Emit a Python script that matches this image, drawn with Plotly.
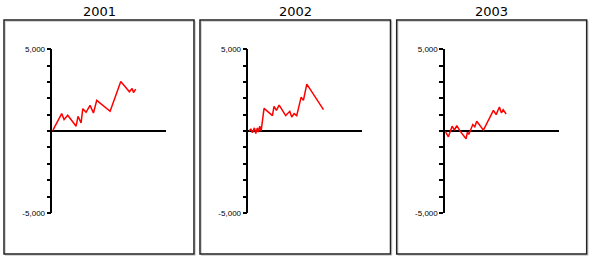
import plotly.graph_objects as go

W, H = 593, 260

years = ["2001", "2002", "2003"]

x_2001 = [0, 8.2, 10.3, 13.5, 20.9, 22.6, 25.3, 26.8, 29.7, 33.2, 36.2, 39.1, 50.9, 60.3, 67.9, 70.3, 71.5, 73.5]
y_2001 = [0, 1073, 708, 972, 304, 911, 506, 1376, 1154, 1579, 1113, 1882, 1214, 3036, 2409, 2611, 2368, 2570]

x_2002 = [0.6, 2.1, 3.5, 5.3, 6.5, 7.9, 8.8, 10.0, 11.2, 13.8, 21.2, 22.6, 24.7, 27.1, 32.9, 36.5, 38.2, 40.3, 42.6, 46.5, 48.5, 51.5, 66.2]
y_2002 = [0, 142, -101, 202, -142, 202, -61, 304, 0, 1397, 951, 1518, 1275, 1599, 951, 1214, 870, 1073, 951, 2085, 1882, 2874, 1316]

x_2003 = [0, 2.9, 6.2, 8.2, 10.3, 13.2, 18.5, 19.7, 20.9, 24.4, 26.2, 27.9, 33.8, 42.6, 45.0, 47.9, 49.7, 51.2, 53.8]
y_2003 = [0, -344, 304, 61, 344, 0, -466, -61, -202, 405, 263, 607, 61, 1275, 1012, 1478, 1113, 1316, 1052]

y_tick_vals = [-5000, -4000, -3000, -2000, -1000, 0, 1000, 2000, 3000, 4000, 5000]
y_tick_text = ["-5,000", "", "", "", "", "", "", "", "", "", "5,000"]

series = [(x_2001, y_2001), (x_2002, y_2002), (x_2003, y_2003)]


def py(y_obs):
    """paper y for a target pixel row (compensates the observed vertical offset/scale)"""
    return 1 - ((y_obs - 4.0) / 0.9615) / H


panel_left = [4, 200, 396.7]
panel_right = [194, 390.5, 586.7]
panel_top, panel_bottom = 20, 253
axis_off = 48.4
axis_len = 113.4
plot_top_px, plot_bot_px = 49.3, 212.0

fig = go.Figure()
shapes = []
annotations = []
for i, (xs, ys) in enumerate(series):
    n = "" if i == 0 else str(i + 1)
    x0 = panel_left[i] + axis_off
    x1 = x0 + axis_len
    fig.add_trace(go.Scatter(x=xs, y=ys, mode="lines",
                             line=dict(color="#ff0000", width=1.5),
                             xaxis="x" + n, yaxis="y" + n, showlegend=False,
                             hoverinfo="skip"))
    fig.layout["xaxis" + n] = dict(domain=[x0 / W, x1 / W], range=[0, 100],
                                   visible=False, anchor="y" + n, fixedrange=True)
    fig.layout["yaxis" + n] = dict(domain=[py(plot_bot_px), py(plot_top_px)],
                                   range=[-5000, 5000], anchor="x" + n,
                                   showline=True, linecolor="black", linewidth=1.5,
                                   showgrid=False, zeroline=True, zerolinecolor="black",
                                   zerolinewidth=1.5,
                                   ticks="outside", ticklen=4, tickwidth=1.5, tickcolor="black",
                                   tickvals=y_tick_vals, ticktext=y_tick_text,
                                   ticklabelstandoff=0,
                                   tickfont=dict(family="Liberation Sans", size=8, color="black"),
                                   fixedrange=True)
    shapes.append(dict(type="rect", xref="paper", yref="paper",
                       x0=(panel_left[i] + 1.3) / W, x1=(panel_right[i] + 1.3) / W,
                       y0=py(panel_bottom + 1.3), y1=py(panel_top + 1.3),
                       line=dict(color="#cccccc", width=1), layer="below"))
    shapes.append(dict(type="rect", xref="paper", yref="paper",
                       x0=panel_left[i] / W, x1=panel_right[i] / W,
                       y0=py(panel_bottom), y1=py(panel_top),
                       line=dict(color="#222222", width=1.5), layer="below"))
    annotations.append(dict(text=years[i], xref="paper", yref="paper",
                            x=(panel_left[i] + panel_right[i]) / 2 / W, y=py(11.5),
                            xanchor="center", yanchor="middle", showarrow=False,
                            font=dict(family="DejaVu Sans", size=13, color="black")))

fig.update_layout(width=W, height=H, margin=dict(l=0, r=0, t=0, b=0),
                  paper_bgcolor="white", plot_bgcolor="rgba(0,0,0,0)",
                  shapes=shapes, annotations=annotations)

fig.write_html("out.html", config={"displayModeBar": False})
